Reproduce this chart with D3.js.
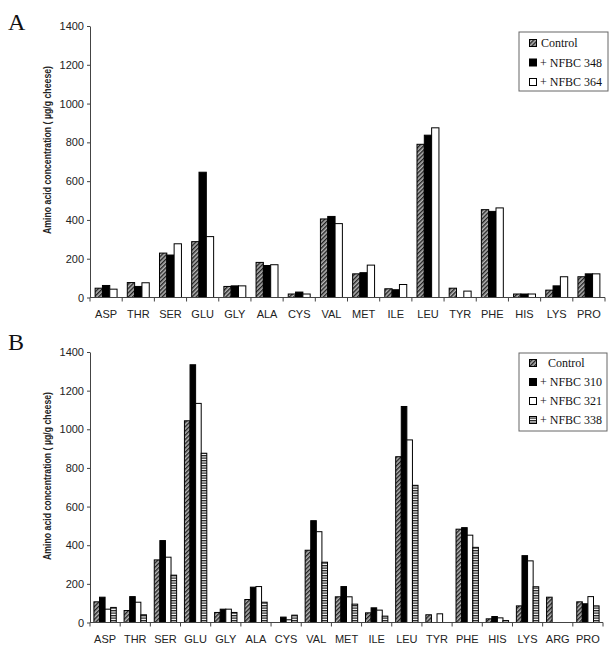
<!DOCTYPE html>
<html><head><meta charset="utf-8">
<script src="https://cdn.jsdelivr.net/npm/d3@7"></script>
<style>body{margin:0;background:#fff}svg{display:block}</style>
</head><body>
<svg id="c" width="616" height="661"></svg>
<script>
const yTicks = [0,200,400,600,800,1000,1200,1400];
const catsA = ["ASP","THR","SER","GLU","GLY","ALA","CYS","VAL","MET","ILE","LEU","TYR","PHE","HIS","LYS","PRO"];
const seriesA = ["Control","+ NFBC 348","+ NFBC 364"];
const controlA = [48,77,229,288,57,181,18,405,122,45,790,48,453,18,38,107];
const nfbc348  = [62,57,219,646,60,165,28,418,128,40,837,0,444,18,60,122];
const nfbc364  = [43,76,277,314,60,169,18,381,167,67,875,33,462,18,107,122];

const catsB = ["ASP","THR","SER","GLU","GLY","ALA","CYS","VAL","MET","ILE","LEU","TYR","PHE","HIS","LYS","ARG","PRO"];
const seriesB = ["Control","+ NFBC 310","+ NFBC 321","+ NFBC 338"];
const controlB = [107,62,324,1044,52,119,0,374,133,50,858,40,483,19,86,131,107];
const nfbc310  = [131,134,424,1334,69,183,28,527,186,76,1118,0,491,31,346,0,97];
const nfbc321  = [69,105,338,1134,69,186,14,470,133,64,945,45,452,24,319,0,134];
const nfbc338  = [78,40,245,876,52,105,38,312,95,33,710,0,389,10,185,0,86];

const svg = d3.select("#c");
const defs = svg.append("defs");
const ph = defs.append("pattern").attr("id","hatch").attr("patternUnits","userSpaceOnUse")
  .attr("width",3).attr("height",3).attr("patternTransform","rotate(45)");
ph.append("rect").attr("width",3).attr("height",3).attr("fill","#b5b5b5");
ph.append("rect").attr("width",1.4).attr("height",3).attr("fill","#222");
const ps = defs.append("pattern").attr("id","stripe").attr("patternUnits","userSpaceOnUse")
  .attr("width",4).attr("height",2.5);
ps.append("rect").attr("width",4).attr("height",2.5).attr("fill","#fff");
ps.append("rect").attr("width",4).attr("height",1.3).attr("fill","#222");

const fills = {"Control":"url(#hatch)","+ NFBC 348":"#000","+ NFBC 364":"#fff",
  "+ NFBC 310":"#000","+ NFBC 321":"#fff","+ NFBC 338":"url(#stripe)"};

function panel(opt){
  const {cats, series, data, x0r, y0, y1, letter, letterY, titleY, legend} = opt;
  const g = svg.append("g");
  const x0 = d3.scaleBand().domain(cats).range(x0r).paddingInner(0).paddingOuter(0);
  const x1 = d3.scaleBand().domain(series).range([0,x0.bandwidth()]).paddingInner(0).paddingOuter(0.7);
  const y = d3.scaleLinear().domain([0,1400]).range([y0,y1]);

  const ya = g.append("g").attr("transform",`translate(${x0r[0]},0)`)
    .call(d3.axisLeft(y).tickValues(yTicks).tickFormat(d3.format("d")).tickSize(3).tickPadding(3).tickSizeOuter(0));
  ya.selectAll("path,line").attr("stroke","#444");
  ya.selectAll("text").attr("font-family","Liberation Sans, Arial, sans-serif").attr("font-size",11).attr("fill","#222");

  cats.forEach((c,i)=>{
    series.forEach((s,j)=>{
      const v = data[j][i];
      if(!v) return;
      g.append("rect").attr("x",x0(c)+x1(s)).attr("y",y(v))
        .attr("width",x1.bandwidth()).attr("height",y(0)-y(v))
        .attr("fill",fills[s]).attr("stroke","#000").attr("stroke-width",1);
    });
  });

  const xb = g.append("g").attr("transform",`translate(0,${y0})`);
  xb.append("line").attr("x1",x0r[0]).attr("x2",x0r[1]).attr("stroke","#444");
  const bounds = cats.map(c=>x0(c)).concat([x0r[1]]);
  bounds.forEach(b=>xb.append("line").attr("x1",b).attr("x2",b).attr("y1",0).attr("y2",4).attr("stroke","#444"));
  cats.forEach(c=>xb.append("text").attr("x",x0(c)+x0.bandwidth()/2).attr("y",20)
    .attr("text-anchor","middle").attr("font-family","Liberation Sans, Arial, sans-serif")
    .attr("font-size",11).attr("fill","#222").text(c));

  g.append("text").attr("transform",`translate(51,${titleY}) rotate(-90)`)
    .attr("text-anchor","middle").attr("font-family","Liberation Sans, Arial, sans-serif")
    .attr("font-size",10.5).attr("font-weight","bold").attr("fill","#222")
    .attr("textLength",168).attr("lengthAdjust","spacingAndGlyphs")
    .text("Amino acid concentration ( µg/g cheese)");

  g.append("text").attr("x",8).attr("y",letterY).attr("font-family","Liberation Serif, Times New Roman, serif")
    .attr("font-size",24).attr("fill","#111").text(letter);

  const L = legend;
  g.append("rect").attr("x",L.x).attr("y",L.y).attr("width",L.w).attr("height",L.h)
    .attr("fill","#fff").attr("stroke","#666");
  series.forEach((s,j)=>{
    const cy = L.y + L.first + j*L.step;
    g.append("rect").attr("x",L.x+10.5).attr("y",cy-3.5).attr("width",7).attr("height",7)
      .attr("fill",fills[s]).attr("stroke","#000").attr("stroke-width",1);
    g.append("text").attr("x", j===0 ? L.x+L.ctrlX : L.x+21).attr("y",cy+4)
      .attr("font-family","Liberation Serif, Times New Roman, serif").attr("font-size",12)
      .attr("fill","#111").text(s);
  });
}

panel({cats:catsA, series:seriesA, data:[controlA,nfbc348,nfbc364], x0r:[90,605], y0:297.5, y1:26,
  letter:"A", letterY:30, titleY:150,
  legend:{x:519,y:32,w:89,h:59,first:11,step:19.5,ctrlX:22}});
panel({cats:catsB, series:seriesB, data:[controlB,nfbc310,nfbc321,nfbc338], x0r:[90,603], y0:622.5, y1:352,
  letter:"B", letterY:350, titleY:476,
  legend:{x:519,y:353,w:88,h:78,first:10,step:19,ctrlX:29}});
</script>
</body></html>
